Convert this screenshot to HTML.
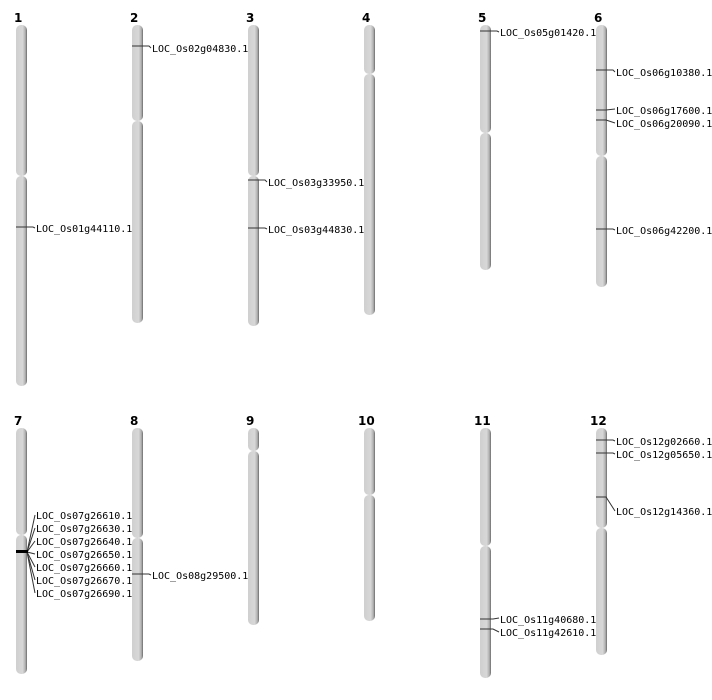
<!DOCTYPE html>
<html><head><meta charset="utf-8"><style>
html,body{margin:0;padding:0;background:#fff;}
svg{display:block}
.n{font-family:"DejaVu Sans","Liberation Sans",sans-serif;font-weight:bold;font-size:12px;fill:#000}
.t{font-family:"DejaVu Sans Mono","Liberation Mono",monospace;font-size:10px;fill:#000}
.m{stroke:#333;stroke-width:1;fill:none}
</style></head><body>
<svg width="712" height="700" viewBox="0 0 712 700" xmlns="http://www.w3.org/2000/svg">
<defs>
<linearGradient id="g" x1="0" x2="1" y1="0" y2="0">
<stop offset="0" stop-color="#cfcfcf"/><stop offset="0.6" stop-color="#d8d8d8"/><stop offset="0.85" stop-color="#b0b0b0"/><stop offset="1" stop-color="#6a6a6a"/>
</linearGradient>
</defs>
<g fill="url(#g)">
<!-- top row -->
<rect x="16" y="25" width="11" height="151" rx="5"/><rect x="16" y="176" width="11" height="210" rx="5"/>
<rect x="132" y="25" width="11" height="96" rx="5"/><rect x="132" y="121" width="11" height="202" rx="5"/>
<rect x="248" y="25" width="11" height="151" rx="5"/><rect x="248" y="176" width="11" height="150" rx="5"/>
<rect x="364" y="25" width="11" height="49" rx="5"/><rect x="364" y="74" width="11" height="241" rx="5"/>
<rect x="480" y="25" width="11" height="108" rx="5"/><rect x="480" y="133" width="11" height="137" rx="5"/>
<rect x="596" y="25" width="11" height="131" rx="5"/><rect x="596" y="156" width="11" height="131" rx="5"/>
<!-- bottom row -->
<rect x="16" y="428" width="11" height="107" rx="5"/><rect x="16" y="535" width="11" height="139" rx="5"/>
<rect x="132" y="428" width="11" height="110" rx="5"/><rect x="132" y="538" width="11" height="123" rx="5"/>
<rect x="248" y="428" width="11" height="23" rx="5"/><rect x="248" y="451" width="11" height="174" rx="5"/>
<rect x="364" y="428" width="11" height="67" rx="5"/><rect x="364" y="495" width="11" height="126" rx="5"/>
<rect x="480" y="428" width="11" height="118" rx="5"/><rect x="480" y="546" width="11" height="132" rx="5"/>
<rect x="596" y="428" width="11" height="100" rx="5"/><rect x="596" y="528" width="11" height="127" rx="5"/>
</g>
<g class="n">
<text x="14" y="22">1</text><text x="130" y="22">2</text><text x="246" y="22">3</text><text x="362" y="22">4</text><text x="478" y="22">5</text><text x="594" y="22">6</text>
<text x="14" y="425">7</text><text x="130" y="425">8</text><text x="246" y="425">9</text><text x="358" y="425">10</text><text x="474" y="425">11</text><text x="590" y="425">12</text>
</g>
<g class="m">
<polyline points="16,227 33,227 35,228"/>
<polyline points="132,46 149,46 151,48"/>
<polyline points="248,180 265,180 267,182"/>
<polyline points="248,228 265,228 267,229"/>
<polyline points="480,31 497,31 499,32"/>
<polyline points="596,70 613,70 615,72"/>
<polyline points="596,110 606,110 615,109"/>
<polyline points="596,120 606,120 615,123"/>
<polyline points="596,229 613,229 615,230"/>
<polyline points="132,574 149,574 151,575"/>
<polyline points="480,619 493,619 499,618"/>
<polyline points="480,629 493,629 499,632"/>
<polyline points="596,440 613,440 615,441"/>
<polyline points="596,453 613,453 615,454"/>
<polyline points="596,497 606,497 615,511"/>
<line x1="27" y1="552" x2="35" y2="515"/>
<line x1="27" y1="552" x2="35" y2="528"/>
<line x1="27" y1="552" x2="35" y2="541"/>
<line x1="27" y1="552" x2="35" y2="554"/>
<line x1="27" y1="552" x2="35" y2="567"/>
<line x1="27" y1="552" x2="35" y2="580"/>
<line x1="27" y1="552" x2="35" y2="593"/>
</g>
<rect x="16" y="550" width="12" height="3" fill="#000"/>
<g class="t">
<text x="36" y="232">LOC_Os01g44110.1</text>
<text x="152" y="52">LOC_Os02g04830.1</text>
<text x="268" y="186">LOC_Os03g33950.1</text>
<text x="268" y="233">LOC_Os03g44830.1</text>
<text x="500" y="36">LOC_Os05g01420.1</text>
<text x="616" y="76">LOC_Os06g10380.1</text>
<text x="616" y="114">LOC_Os06g17600.1</text>
<text x="616" y="127">LOC_Os06g20090.1</text>
<text x="616" y="234">LOC_Os06g42200.1</text>
<text x="36" y="519">LOC_Os07g26610.1</text>
<text x="36" y="532">LOC_Os07g26630.1</text>
<text x="36" y="545">LOC_Os07g26640.1</text>
<text x="36" y="558">LOC_Os07g26650.1</text>
<text x="36" y="571">LOC_Os07g26660.1</text>
<text x="36" y="584">LOC_Os07g26670.1</text>
<text x="36" y="597">LOC_Os07g26690.1</text>
<text x="152" y="579">LOC_Os08g29500.1</text>
<text x="500" y="623">LOC_Os11g40680.1</text>
<text x="500" y="636">LOC_Os11g42610.1</text>
<text x="616" y="445">LOC_Os12g02660.1</text>
<text x="616" y="458">LOC_Os12g05650.1</text>
<text x="616" y="515">LOC_Os12g14360.1</text>
</g>
</svg>
</body></html>
